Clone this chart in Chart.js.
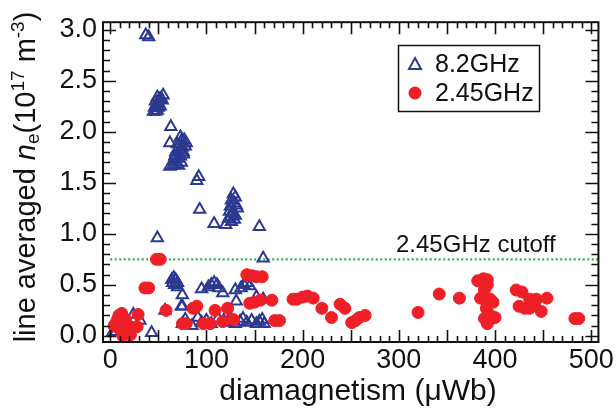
<!DOCTYPE html>
<html>
<head>
<meta charset="utf-8">
<script src="https://cdn.jsdelivr.net/npm/chart.js@4/dist/chart.umd.min.js"></script>
<style>
  html, body { margin: 0; padding: 0; background: #fff; }
  #wrap { width: 616px; height: 414px; position: relative; }
</style>
</head>
<body>
<div id="wrap"><canvas id="chart" width="616" height="414"></canvas></div>
<script>
// data

// 8.2GHz (open triangles)
const blueX = [37, 40,
  45, 47, 49, 46, 48, 47, 50, 51, 49, 53, 55, 54, 52, 50,
  63,
  62, 65, 68, 71, 74, 66, 70, 73, 76, 68, 72, 75, 78, 70, 74, 77, 79, 73, 76, 67, 62,
  90, 92, 93, 108, 120, 155, 159, 49,
  128, 130, 126, 129, 125, 131, 124, 127, 130, 123, 126, 129, 132, 125,
  64, 66, 68, 70, 67, 65, 70, 75, 75, 57, 24, 31, 3, 6, 43, 95, 102, 105, 108, 111, 113, 117,
  130, 131, 136, 139, 142, 145, 152, 159, 91, 74,
  75, 78, 85, 95, 100, 105, 112, 118, 122, 125, 130, 135, 138, 142, 147, 152, 155, 158, 160];
const blueY = [2.95, 2.93,
  2.20, 2.20, 2.21, 2.24, 2.27, 2.30, 2.28, 2.32, 2.34, 2.33, 2.36, 2.31, 2.25, 2.24,
  2.05,
  1.66, 1.67, 1.68, 1.67, 1.70, 1.72, 1.74, 1.76, 1.78, 1.80, 1.82, 1.85, 1.86, 1.88, 1.91, 1.92, 1.89, 1.95, 1.80, 1.76, 1.89,
  1.52, 1.56, 1.24, 1.10, 1.09, 1.07, 0.76, 0.96,
  1.39, 1.36, 1.33, 1.30, 1.27, 1.28, 1.22, 1.20, 1.18, 1.15, 1.12, 1.14, 1.25, 1.17,
  0.55, 0.57, 0.55, 0.52, 0.50, 0.52, 0.48, 0.40, 0.29, 0.25, 0.21, 0.15, 0.04, 0.04, 0.03, 0.46, 0.48, 0.50, 0.52, 0.50, 0.47, 0.42,
  0.45, 0.34, 0.47, 0.50, 0.52, 0.49, 0.38, 0.36, 0.18, 0.29,
  0.12, 0.16, 0.10, 0.13, 0.15, 0.12, 0.17, 0.15, 0.13, 0.18, 0.12, 0.14, 0.17, 0.13, 0.15, 0.12, 0.14, 0.16, 0.12];

// 2.45GHz (filled circles)
const redX = [48, 52, 36, 40,
  4, 7, 9, 12, 11, 14, 16, 19, 21, 13, 17, 8,
  29, 23, 28, 58, 86, 90, 75, 79, 97, 104, 109, 122, 117, 128,
  142, 147, 152, 158, 145, 150, 156, 168, 171, 176,
  190, 194, 200, 205, 211, 220, 230, 239, 244, 251, 255, 259, 265, 320, 342, 363,
  382, 388, 392, 392, 389, 385, 389, 395, 398, 391, 394, 389, 395, 400, 392,
  422, 428, 425, 431, 436, 436, 443, 448, 454, 441,
  483, 487];
const redY = [0.75, 0.75, 0.47, 0.47,
  0.10, 0.15, 0.20, 0.22, 0.06, 0.10, 0.16, 0.05, 0.01, 0.00, 0.12, 0.08,
  0.21, 0.08, 0.09, 0.25, 0.27, 0.29, 0.12, 0.12, 0.12, 0.12, 0.25, 0.27, 0.14, 0.16,
  0.60, 0.59, 0.58, 0.58, 0.32, 0.33, 0.35, 0.35, 0.15, 0.15,
  0.36, 0.36, 0.38, 0.39, 0.37, 0.27, 0.18, 0.31, 0.27, 0.13, 0.15, 0.18, 0.20, 0.23, 0.41, 0.37,
  0.54, 0.56, 0.55, 0.50, 0.45, 0.37, 0.36, 0.36, 0.33, 0.27, 0.21, 0.17, 0.16, 0.18, 0.12,
  0.45, 0.43, 0.29, 0.27, 0.36, 0.27, 0.36, 0.24, 0.37, 0.30,
  0.17, 0.17];

const cutoffX = [0, 507];
const cutoffY = [0.75, 0.75];

const xTicks = [0, 100, 200, 300, 400, 500];
const yTicks = [0, 0.5, 1.0, 1.5, 2.0, 2.5, 3.0];

const BLUE = '#2b3990';
const RED = '#ee1f26';
const GREEN = '#2fb34a';
const FONT = "'Liberation Sans', Arial, sans-serif";

function pts(xs, ys) {
    return xs.map((x, i) => ({ x: x, y: ys[i] }));
}

// frame, inside ticks, titles, legend
const decor = {
    id: 'decor',
    afterDraw(chart) {
        const ctx = chart.ctx;
        const a = chart.chartArea;
        const sx = chart.scales.x, sy = chart.scales.y;
        ctx.save();
        ctx.strokeStyle = '#111';
        ctx.lineWidth = 2;
        ctx.strokeRect(a.left, a.top, a.right - a.left, a.bottom - a.top);

        ctx.lineWidth = 1.6;
        ctx.beginPath();
        for (let v = 0; v <= 500; v += 10) {
            const px = Math.round(sx.getPixelForValue(v)) + 0.5;
            const len = v % 50 === 0 ? 12 : 6;
            ctx.moveTo(px, a.bottom); ctx.lineTo(px, a.bottom - len);
            ctx.moveTo(px, a.top); ctx.lineTo(px, a.top + len);
        }
        for (let i = 0; i <= 30; i++) {
            const py = Math.round(sy.getPixelForValue(i / 10)) + 0.5;
            const len = i % 5 === 0 ? 13 : 7;
            ctx.moveTo(a.left, py); ctx.lineTo(a.left + len, py);
            ctx.moveTo(a.right, py); ctx.lineTo(a.right - len, py);
        }
        ctx.stroke();

        // x title
        ctx.fillStyle = '#111';
        ctx.font = '30px ' + FONT;
        ctx.textAlign = 'center';
        ctx.textBaseline = 'alphabetic';
        ctx.fillText('diamagnetism (\u03bcWb)', 358, 400);

        // y title, rotated, with italic n, subscript and superscripts
        const fs = 29, small = 19;
        const parts = [
            ['line averaged ', fs + 'px ' + FONT, 0],
            ['n', 'italic ' + fs + 'px ' + FONT, 0],
            ['e', small + 'px ' + FONT, 4],
            ['(10', fs + 'px ' + FONT, 0],
            ['17', small + 'px ' + FONT, -11],
            [' m', fs + 'px ' + FONT, 0],
            ['-3', small + 'px ' + FONT, -11],
            [')', fs + 'px ' + FONT, 0]
        ];
        let total = 0;
        parts.forEach(p => { ctx.font = p[1]; total += ctx.measureText(p[0]).width; });
        ctx.translate(35, 177);
        ctx.rotate(-Math.PI / 2);
        ctx.textAlign = 'left';
        let cx = -total / 2;
        parts.forEach(p => {
            ctx.font = p[1];
            ctx.fillText(p[0], cx, p[2]);
            cx += ctx.measureText(p[0]).width;
        });
        ctx.setTransform(1, 0, 0, 1, 0, 0);

        // cutoff label
        ctx.font = '24px ' + FONT;
        ctx.textAlign = 'left';
        ctx.fillText('2.45GHz cutoff', 396, 252);

        // legend
        ctx.lineWidth = 1.5;
        ctx.strokeStyle = '#111';
        ctx.strokeRect(398.5, 45.5, 141, 66);
        ctx.strokeStyle = BLUE;
        ctx.lineWidth = 2;
        ctx.beginPath();
        ctx.moveTo(415, 58); ctx.lineTo(421, 69); ctx.lineTo(409, 69); ctx.closePath();
        ctx.stroke();
        ctx.fillStyle = RED;
        ctx.beginPath();
        ctx.arc(415, 93, 6.5, 0, Math.PI * 2);
        ctx.fill();
        ctx.fillStyle = '#111';
        ctx.font = '25px ' + FONT;
        ctx.textBaseline = 'middle';
        ctx.fillText('8.2GHz', 435, 65);
        ctx.fillText('2.45GHz', 435, 94);
        ctx.restore();
    }
};

Chart.defaults.font.family = FONT;

let chart = new Chart(document.getElementById('chart'), {
    type: 'scatter',
    data: {
        datasets: [{
            label: '2.45GHz',
            data: pts(redX, redY),
            pointStyle: 'circle',
            pointRadius: 6,
            pointBorderWidth: 1,
            backgroundColor: RED,
            borderColor: RED,
            order: 0
        }, {
            label: '8.2GHz',
            data: pts(blueX, blueY),
            pointStyle: 'triangle',
            pointRadius: 6.5,
            pointBorderWidth: 2,
            backgroundColor: 'rgba(0,0,0,0)',
            borderColor: BLUE,
            order: 1
        }, {
            label: 'cutoff',
            type: 'line',
            data: pts(cutoffX, cutoffY),
            borderColor: GREEN,
            borderWidth: 2.2,
            borderDash: [2, 2.5],
            pointRadius: 0,
            order: 2
        }]
    },
    options: {
        responsive: false,
        animation: false,
        devicePixelRatio: 1,
        layout: { padding: { top: 7, right: 17, left: 0, bottom: 0 } },
        plugins: { legend: { display: false }, tooltip: { enabled: false } },
        scales: {
            x: {
                type: 'linear',
                min: -7.5,
                max: 507.5,
                grid: { display: false, drawTicks: false },
                border: { display: false },
                afterBuildTicks: s => { s.ticks = xTicks.map(v => ({ value: v })); },
                afterFit: s => { s.height = 72; },
                ticks: { color: '#111', font: { size: 27 }, padding: 2, maxRotation: 0 }
            },
            y: {
                type: 'linear',
                min: -0.06,
                max: 3.075,
                grid: { display: false, drawTicks: false },
                border: { display: false },
                afterBuildTicks: s => { s.ticks = yTicks.map(v => ({ value: v })); },
                afterFit: s => { s.width = 103; },
                ticks: { color: '#111', font: { size: 27 }, padding: 6, callback: v => v.toFixed(1) }
            }
        }
    },
    plugins: [decor]
});
</script>
</body>
</html>
